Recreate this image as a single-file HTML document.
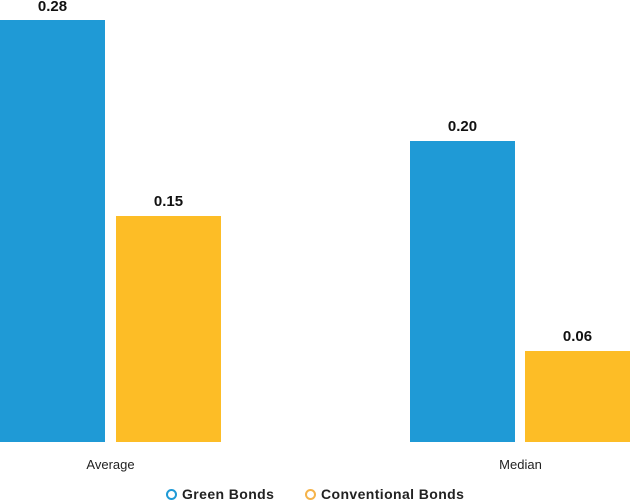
<!DOCTYPE html>
<html><head><style>
body{margin:0;width:630px;height:504px;background:#fff;position:relative;overflow:hidden;font-family:"Liberation Sans",sans-serif;}
.b{position:absolute;bottom:62px;width:105px}
.bl{background:#1f9ad6}.or{background:#fdbd26}
.v{position:absolute;width:105px;text-align:center;font-weight:bold;font-size:15px;color:#111}
.c{position:absolute;top:457px;font-size:13px;color:#222;text-align:center;width:105px}
.lg{position:absolute;top:486px;font-size:14px;font-weight:bold;color:#222;letter-spacing:0.4px}
.ci{display:inline-block;width:7px;height:7px;border-radius:50%;border:2px solid;margin-right:5px;vertical-align:-1px}
</style></head><body>
<div class="b bl" style="left:0;top:20px"></div>
<div class="b or" style="left:116px;top:216px"></div>
<div class="b bl" style="left:410px;top:141px"></div>
<div class="b or" style="left:525px;top:351px"></div>
<div class="v" style="left:0;top:-2px">0.28</div>
<div class="v" style="left:116px;top:193px">0.15</div>
<div class="v" style="left:410px;top:118px">0.20</div>
<div class="v" style="left:525px;top:328px">0.06</div>
<div class="c" style="left:58px">Average</div>
<div class="c" style="left:468px">Median</div>
<div class="lg" style="left:166px"><span class="ci" style="border-color:#1f9ad6"></span>Green Bonds</div>
<div class="lg" style="left:305px"><span class="ci" style="border-color:#f5b34a"></span>Conventional Bonds</div>
</body></html>
